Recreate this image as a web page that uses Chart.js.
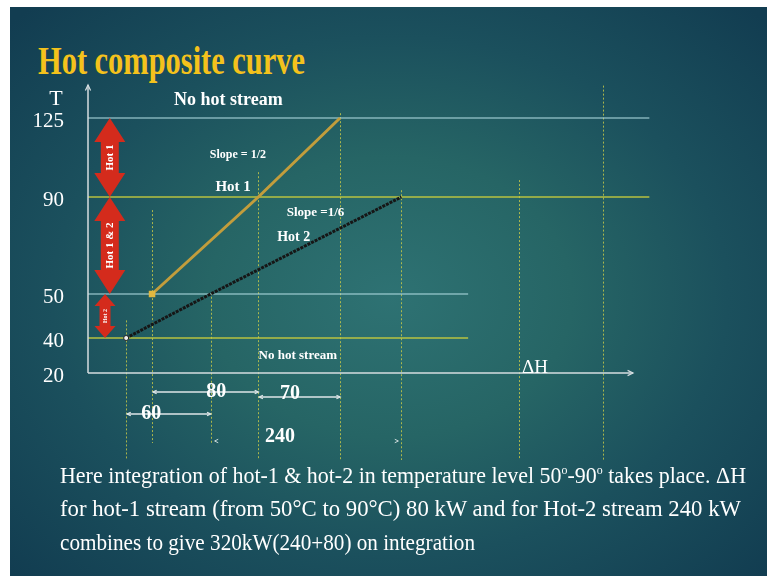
<!DOCTYPE html>
<html><head><meta charset="utf-8">
<script src="https://cdn.jsdelivr.net/npm/chart.js@4.4.0/dist/chart.umd.min.js"></script>
<style>
html,body{margin:0;padding:0;background:#fff;width:767px;height:576px;overflow:hidden;}
#slide{position:absolute;left:10px;top:7px;width:757px;height:569px;
 background: radial-gradient(ellipse 520px 400px at 380px 290px, #2e7273 0%, #266565 35%, #1b505d 65%, #123d51 100%);}
#title{position:absolute;left:38px;top:41px;font:bold 39px 'Liberation Serif',serif;line-height:39px;color:#f4c21c;transform-origin:left top;white-space:nowrap;display:inline-block;}
.para{position:absolute;left:60px;font:24px 'Liberation Serif',serif;line-height:24px;color:#fff;transform-origin:left top;white-space:nowrap;display:inline-block;}
.para sup{font-size:13px;vertical-align:9px;line-height:0;}
#cv{position:absolute;left:0;top:0;}
</style></head>
<body>
<div id="slide"></div>
<div id="title">Hot composite curve</div>
<canvas id="cv" width="767" height="576"></canvas>
<div class="para" id="l1" style="top:463px">Here integration of hot-1 &amp; hot-2 in temperature level 50<sup>o</sup>-90<sup>o</sup> takes place. ΔH</div>
<div class="para" id="l2" style="top:496px">for hot-1 stream (from 50°C to 90°C) 80 kW and for Hot-2 stream 240 kW</div>
<div class="para" id="l3" style="top:530px">combines to give 320kW(240+80) on integration</div>
<script>
// ---- data ----
const tempTicks = [20, 40, 50, 90, 125];
const hot1H = [47, 125, 185];
const hot1T = [50, 90, 125];
const hot2H = [28, 90, 230];
const hot2T = [40, 50, 90];
const levelT = [125, 90, 50, 40];
const levelEndH = [412, 412, 279, 279];
const guideH = [28, 47, 90, 125, 185, 230, 316, 378];
const guideTopT = [44, 84.6, 50.5, 101, 127, 93, 97.5, 138.5];
const dimLabels = ['60', '80', '70', '240'];
const dimFrom = [0, 1, 3, 2];
const dimTo = [2, 3, 4, 5];
const bandTop = [125, 90, 50];
const bandBottom = [90, 50, 40];
const bandLabels = ['Hot 1', 'Hot 1 & 2', 'Hot 2'];

// The slide's temperature axis is not drawn to scale: piecewise-linear axis (axis layout config)
const axisStopValues = [20, 40, 50, 90, 125, 135];
const axisStopFractions = [0, 0.1254, 0.2832, 0.6308, 0.914, 1];
function toFrac(v){
  const V = axisStopValues, F = axisStopFractions;
  let i = 0;
  if (v <= V[0]) i = 0; else if (v >= V[V.length-1]) i = V.length - 2;
  else { while (v > V[i+1]) i++; }
  return F[i] + (v - V[i]) / (V[i+1] - V[i]) * (F[i+1] - F[i]);
}
function fromFrac(f){
  const V = axisStopValues, F = axisStopFractions;
  let i = 0;
  if (f <= F[0]) i = 0; else if (f >= F[F.length-1]) i = F.length - 2;
  else { while (f > F[i+1]) i++; }
  return V[i] + (f - F[i]) / (F[i+1] - F[i]) * (V[i+1] - V[i]);
}
class PiecewiseScale extends Chart.LinearScale {
  getPixelForValue(value){
    if (value === null || value === undefined || isNaN(value)) return NaN;
    return this.getPixelForDecimal(toFrac(value));
  }
  getValueForPixel(pixel){ return fromFrac(this.getDecimalForPixel(pixel)); }
}
PiecewiseScale.id = 'piecewise';
PiecewiseScale.defaults = Chart.LinearScale.defaults;
Chart.register(PiecewiseScale);

function fit(id, target){
  const el = document.getElementById(id);
  const w = el.getBoundingClientRect().width;
  el.style.transform = 'scaleX(' + (target / w) + ')';
}
fit('title', 267); fit('l1', 686); fit('l2', 681); fit('l3', 415);

const levelColors = ['rgba(175,220,225,0.7)', 'rgba(200,205,60,0.9)', 'rgba(175,220,225,0.7)', 'rgba(200,205,60,0.9)'];

const datasets = [
  {label:'Hot 2', data: hot2H.map((h,i)=>({x:h,y:hot2T[i]})), borderColor:'#161616', borderWidth:3, borderDash:[3,1],
   pointRadius:[2.5,0,0], pointBackgroundColor:'#f0f0f0', pointBorderColor:'#222', pointBorderWidth:1, showLine:true},
  {label:'Hot 1', data: hot1H.map((h,i)=>({x:h,y:hot1T[i]})), borderColor:'#c29d3c', borderWidth:3,
   pointRadius:[2.5,0,0], pointStyle:'rect', pointBackgroundColor:'#e0b840', pointBorderColor:'#e0b840', showLine:true}
];
levelT.forEach((t,i)=>{
  datasets.push({label:'T'+t, data:[{x:0,y:t},{x:levelEndH[i],y:t}], borderColor:levelColors[i], borderWidth:1.6,
    pointRadius:0, showLine:true, clip:false});
});

function arrowHead(ctx, x, y, dx, dy, size){
  const a = Math.atan2(dy, dx);
  ctx.beginPath();
  ctx.moveTo(x - size*Math.cos(a-0.45), y - size*Math.sin(a-0.45));
  ctx.lineTo(x, y);
  ctx.lineTo(x - size*Math.cos(a+0.45), y - size*Math.sin(a+0.45));
  ctx.stroke();
}
function redArrow(ctx, cx, y1, y2, shaft, head, headL){
  ctx.beginPath();
  ctx.moveTo(cx, y1);
  ctx.lineTo(cx + head/2, y1 + headL);
  ctx.lineTo(cx + shaft/2, y1 + headL);
  ctx.lineTo(cx + shaft/2, y2 - headL);
  ctx.lineTo(cx + head/2, y2 - headL);
  ctx.lineTo(cx, y2);
  ctx.lineTo(cx - head/2, y2 - headL);
  ctx.lineTo(cx - shaft/2, y2 - headL);
  ctx.lineTo(cx - shaft/2, y1 + headL);
  ctx.lineTo(cx - head/2, y1 + headL);
  ctx.closePath();
  ctx.fill();
}

const decor = {
  id: 'decor',
  beforeDatasetsDraw(chart){
    const {ctx, scales:{x, y}} = chart;
    const drop = [87, 70, 70, 87, 87, 87, 87, 87];
    ctx.save();
    ctx.strokeStyle = 'rgba(205,205,70,0.8)';
    ctx.lineWidth = 1;
    ctx.setLineDash([2, 2]);
    guideH.forEach((h,i)=>{
      const px = Math.round(x.getPixelForValue(h)) + 0.5;
      ctx.beginPath();
      ctx.moveTo(px, y.getPixelForValue(guideTopT[i]));
      ctx.lineTo(px, y.bottom + drop[i]);
      ctx.stroke();
    });
    ctx.restore();
  },
  afterDatasetsDraw(chart){
    const {ctx, chartArea:a, scales:{x, y}} = chart;
    ctx.save();
    // axes with arrows
    ctx.strokeStyle = '#d5dde0';
    ctx.lineWidth = 1.5;
    ctx.beginPath();
    ctx.moveTo(a.left, a.bottom); ctx.lineTo(a.left, a.top - 9);
    ctx.moveTo(a.left, a.bottom); ctx.lineTo(a.right, a.bottom);
    ctx.stroke();
    ctx.lineWidth = 1.2;
    arrowHead(ctx, a.left, a.top - 9, 0, -1, 6);
    arrowHead(ctx, a.right, a.bottom, 1, 0, 6);

    // red double arrows
    const cxs = [16, 16, 12.5];
    const shafts = [18, 18, 11], heads = [31, 31, 21], headLs = [24, 24, 12];
    bandTop.forEach((t,i)=>{
      const cx = x.getPixelForValue(cxs[i]);
      const y1 = y.getPixelForValue(t), y2 = y.getPixelForValue(bandBottom[i]);
      ctx.fillStyle = '#d42b1c';
      redArrow(ctx, cx, y1, y2, shafts[i], heads[i], headLs[i]);
      ctx.save();
      ctx.translate(cx, (y1 + y2) / 2);
      ctx.rotate(-Math.PI / 2);
      ctx.fillStyle = '#fff';
      ctx.font = 'bold ' + (i === 2 ? 6 : 11) + "px 'Liberation Serif'";
      ctx.textAlign = 'center'; ctx.textBaseline = 'middle';
      ctx.fillText(bandLabels[i], 0, 0);
      ctx.restore();
    });

    // annotations
    const notes = [
      {t:'T', h:-23.5, T:133, f:"22px 'Liberation Serif'"},
      {t:'No hot stream', h:103, T:132.5, f:"bold 18px 'Liberation Serif'"},
      {t:'Slope = 1/2', h:110, T:108.6, f:"bold 12px 'Liberation Serif'"},
      {t:'Hot 1', h:106.5, T:94.4, f:"bold 15px 'Liberation Serif'"},
      {t:'Slope =1/6', h:167, T:83.4, f:"bold 13px 'Liberation Serif'"},
      {t:'Hot 2', h:151, T:73.5, f:"bold 14px 'Liberation Serif'"},
      {t:'No hot stream', h:154, T:29.7, f:"bold 13px 'Liberation Serif'"},
      {t:'ΔH', h:328, T:22.9, f:"19px 'Liberation Serif'"}
    ];
    ctx.fillStyle = '#fff';
    ctx.textAlign = 'center'; ctx.textBaseline = 'middle';
    notes.forEach(n=>{
      ctx.font = n.f;
      ctx.fillText(n.t, x.getPixelForValue(n.h), y.getPixelForValue(n.T));
    });

    // dimension arrows
    const rowOff = [41, 19, 24, 68];
    const labOff = [41, 19, 21, 64];
    const frac = [0.29, 0.6, 0.38, 0.36];
    ctx.strokeStyle = '#dfe6e8';
    ctx.lineWidth = 1.3;
    dimLabels.forEach((lab,i)=>{
      const x1 = x.getPixelForValue(guideH[dimFrom[i]]) + 1;
      const x2 = x.getPixelForValue(guideH[dimTo[i]]);
      const yy = a.bottom + rowOff[i];
      if (i < 3) {
        ctx.beginPath(); ctx.moveTo(x1, yy); ctx.lineTo(x2, yy); ctx.stroke();
        arrowHead(ctx, x1, yy, -1, 0, 4);
        arrowHead(ctx, x2, yy, 1, 0, 4);
      } else {
        ctx.lineWidth = 0.9;
        arrowHead(ctx, x1 + 3, yy, -1, 0, 4);
        arrowHead(ctx, x2 - 3, yy, 1, 0, 4);
        ctx.lineWidth = 1.3;
      }
      ctx.font = "bold 20px 'Liberation Serif'";
      ctx.fillStyle = '#fff';
      ctx.fillText(lab, x1 + (x2 - x1) * frac[i], a.bottom + labOff[i]);
    });
    ctx.restore();
  }
};

new Chart(document.getElementById('cv'), {
  type: 'scatter',
  data: { datasets },
  options: {
    responsive: false, animation: false, devicePixelRatio: 1,
    layout: { padding: { left: 0, right: 134, top: 94, bottom: 203 } },
    plugins: { legend: { display: false }, tooltip: { enabled: false } },
    scales: {
      x: { type: 'linear', min: 0, max: 400, display: false },
      y: { type: 'piecewise', min: 20, max: 135,
        grid: { display: false }, border: { display: false },
        afterBuildTicks: s => { s.ticks = tempTicks.map(v => ({ value: v })); },
        afterFit: s => { s.width = 88; },
        ticks: { color: '#ffffff', padding: 16, labelOffset: 3,
          font: { family: "'Liberation Serif'", size: 21 } } }
    }
  },
  plugins: [decor]
});
</script>
</body></html>
